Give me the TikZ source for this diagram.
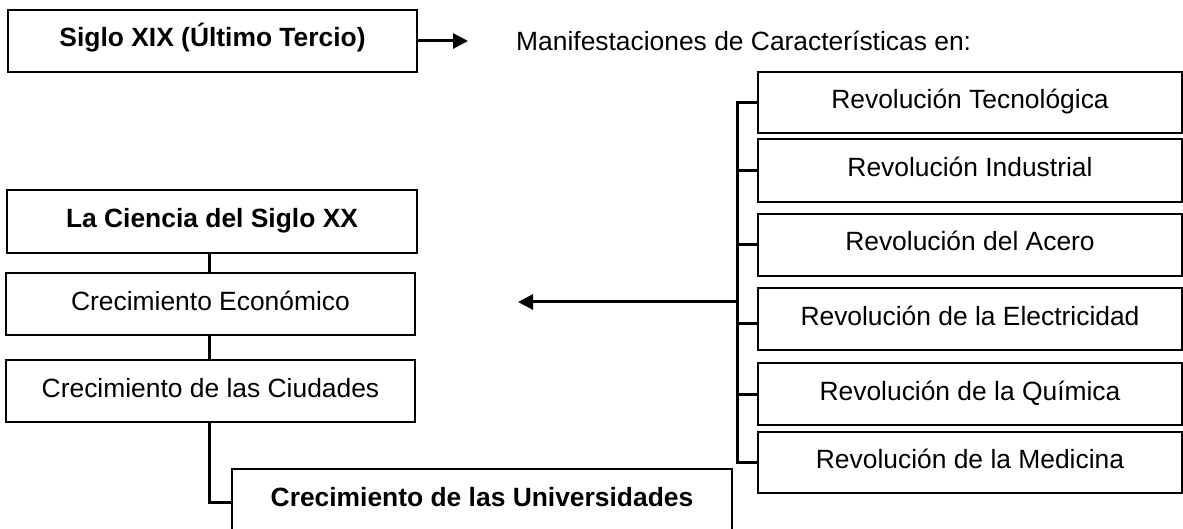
\documentclass[tikz,border=0pt]{standalone}
\usepackage{fontspec}
\setmainfont{Liberation Sans}
\usetikzlibrary{arrows.meta,calc}
\begin{document}
\begin{tikzpicture}[x=1pt,y=-1pt,
  box/.style={draw, line width=2.6pt, inner sep=0pt, outer sep=0pt,
    text height=19pt, text depth=7pt, font=\fontsize{26.4}{30}\selectfont},
  boldbox/.style={box, font=\fontsize{26.4}{30}\selectfont\bfseries},
  conn/.style={line width=3pt},
  arr/.style={conn, -{Triangle[length=15pt,width=15pt]}}]
\useasboundingbox (0,0) rectangle (1183,529);
\clip (0,0) rectangle (1183,529);

% top
\node[boldbox, minimum width=409pt, minimum height=62pt] (top) at (212.5,41) {Siglo XIX (Último Tercio)};
\coordinate (ta) at (468,41);
\draw[arr] (top.east) -- (ta);
\node[anchor=west, inner sep=0pt, font=\fontsize{26.4}{30}\selectfont] (man) at (516,41) {Manifestaciones de Características en:};

% right column
\node[box, minimum width=424pt, minimum height=61pt] (r1) at (970,102.5) {Revolución Tecnológica};
\node[box, minimum width=424pt, minimum height=63pt] (r2) at (970,170.5) {Revolución Industrial};
\node[box, minimum width=424pt, minimum height=62pt] (r3) at (970,245) {Revolución del Acero};
\node[box, minimum width=424pt, minimum height=62pt] (r4) at (970,319) {Revolución de la Electricidad};
\node[box, minimum width=424pt, minimum height=62pt] (r5) at (970,394) {Revolución de la Química};
\node[box, minimum width=424pt, minimum height=61pt] (r6) at (970,462.5) {Revolución de la Medicina};

\coordinate (bus) at (737,0);
\draw[conn] (r1.west) -| (bus |- r6.west) -- (r6.west);
\draw[conn] (r2.west) -- (r2.west -| bus);
\draw[conn] (r3.west) -- (r3.west -| bus);
\draw[conn] ([yshift=-4pt]r4.west) -- ([yshift=-4pt]r4.west -| bus);
\draw[conn] (r5.west) -- (r5.west -| bus);

\coordinate (la) at (518,302);
\draw[arr] (bus |- la) -- (la);

% left column
\node[boldbox, minimum width=410pt, minimum height=63pt] (L1) at (212,221.5) {La Ciencia del Siglo XX};
\node[box, minimum width=409pt, minimum height=62pt] (L2) at (210.5,304) {Crecimiento Económico};
\node[box, minimum width=409pt, minimum height=62pt] (L3) at (210.5,391) {Crecimiento de las Ciudades};
\node[boldbox, minimum width=500pt, minimum height=62pt] (L4) at (482,500) {Crecimiento de las Universidades};

\coordinate (lx) at (209,0);
\draw[conn] (L1.south -| lx) -- (L2.north -| lx);
\draw[conn] (L2.south -| lx) -- (L3.north -| lx);
\draw[conn] (L3.south -| lx) |- ([yshift=-2pt]L4.west);
\end{tikzpicture}
\end{document}
